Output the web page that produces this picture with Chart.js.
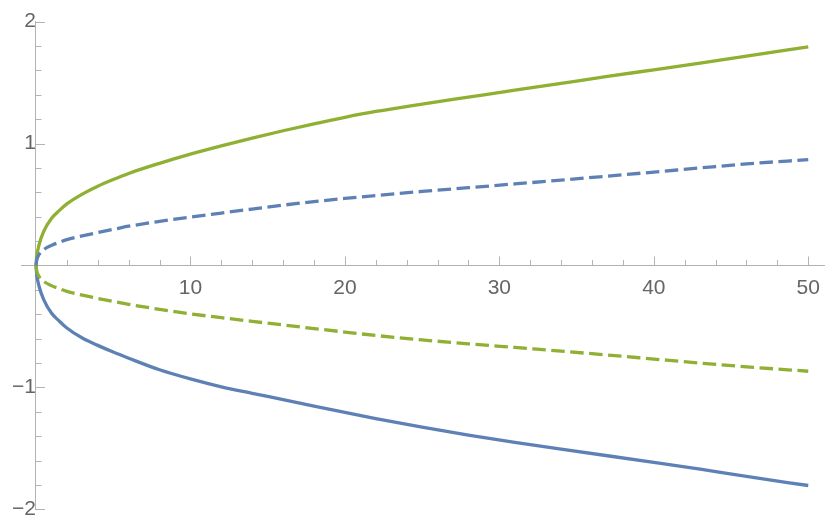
<!DOCTYPE html>
<html>
<head>
<meta charset="utf-8">
<script src="https://cdn.jsdelivr.net/npm/chart.js@4.4.1/dist/chart.umd.min.js"></script>
<style>
  html, body { margin: 0; padding: 0; background: #fff; }
  #wrap { width: 830px; height: 531px; position: relative; }
</style>
</head>
<body>
<div id="wrap"><canvas id="chart"></canvas></div>
<script>
// ===== Data =====
const xs = [0, 0.05, 0.2, 0.5, 1, 1.5, 2, 3, 4, 5, 6, 8, 10, 12, 14, 16, 18, 20, 22, 25, 28, 31, 34, 37, 40, 43, 46, 50];
const greenSolid = [0, 0.075, 0.17, 0.28, 0.385, 0.45, 0.505, 0.585, 0.65, 0.705, 0.755, 0.838, 0.913, 0.981, 1.045, 1.105, 1.162, 1.215, 1.263, 1.324, 1.381, 1.438, 1.494, 1.55, 1.605, 1.66, 1.716, 1.793];
const blueSolid = [0, -0.075, -0.17, -0.28, -0.39, -0.455, -0.512, -0.595, -0.655, -0.71, -0.76, -0.855, -0.93, -0.995, -1.048, -1.1, -1.153, -1.205, -1.255, -1.325, -1.39, -1.45, -1.505, -1.56, -1.615, -1.67, -1.73, -1.804];
const blueDashed = [0, 0.045, 0.09, 0.13, 0.165, 0.19, 0.212, 0.243, 0.27, 0.296, 0.322, 0.362, 0.397, 0.43, 0.463, 0.495, 0.524, 0.55, 0.574, 0.607, 0.638, 0.669, 0.7, 0.733, 0.766, 0.8, 0.833, 0.868];
const greenDashed = [0, -0.045, -0.09, -0.13, -0.165, -0.19, -0.212, -0.243, -0.27, -0.295, -0.318, -0.36, -0.396, -0.428, -0.458, -0.487, -0.517, -0.546, -0.574, -0.61, -0.642, -0.672, -0.702, -0.734, -0.767, -0.8, -0.831, -0.867];
const xTicks = [10, 20, 30, 40, 50];
const yTicks = [-2, -1, 1, 2];

const GREEN = '#8fb032', BLUE = '#5e81b5', AXIS = '#b3b3b3', LABEL = '#666666';
const pts = arr => xs.map((x, i) => ({ x, y: arr[i] }));

// small inward tick marks, Mathematica style (major + minor)
const tickMarks = {
    id: 'tickMarks',
    beforeDatasetsDraw(chart) {
        const { ctx, scales: { x, y } } = chart;
        const x0 = x.getPixelForValue(0), y0 = y.getPixelForValue(0);
        ctx.save();
        ctx.strokeStyle = AXIS; ctx.lineWidth = 1;
        ctx.beginPath();
        for (let v = 2; v <= 50; v += 2) {
            const px = Math.round(x.getPixelForValue(v)) + 0.5;
            const len = v % 10 === 0 ? 9 : 5.5;
            ctx.moveTo(px, y0); ctx.lineTo(px, y0 - len);
        }
        for (let i = -10; i <= 10; i++) {
            if (i === 0) continue;
            const py = Math.round(y.getPixelForValue(i / 5)) + 0.5;
            const len = i % 5 === 0 ? 9 : 5.5;
            ctx.moveTo(x0, py); ctx.lineTo(x0 + len, py);
        }
        ctx.stroke();
        ctx.restore();
    }
};

const line = (data, color, dashed) => ({
    data: pts(data), borderColor: color, borderWidth: 3.3, pointRadius: 0,
    borderDash: dashed ? [13.5, 5.5] : [], borderCapStyle: 'butt',
    cubicInterpolationMode: 'monotone', fill: false
});

const tickFont = { family: 'Liberation Sans', size: 21 };

new Chart(document.getElementById('chart'), {
    type: 'line',
    data: {
        datasets: [
            line(blueDashed, BLUE, true),
            line(greenDashed, GREEN, true),
            line(greenSolid, GREEN, false),
            line(blueSolid, BLUE, false)
        ]
    },
    options: {
        responsive: true, maintainAspectRatio: false, animation: false,
        layout: { padding: { left: 21, right: 3, top: 15, bottom: 18 } },
        plugins: { legend: { display: false }, tooltip: { enabled: false } },
        scales: {
            x: {
                type: 'linear', min: -0.97, max: 51.05, position: { y: 0 },
                grid: { color: 'transparent', drawOnChartArea: false, drawTicks: false },
                border: { color: AXIS, width: 1 },
                afterBuildTicks: s => { s.ticks = xTicks.map(v => ({ value: v })); },
                ticks: { padding: 10, color: LABEL, font: tickFont, autoSkip: false, maxRotation: 0 }
            },
            y: {
                type: 'linear', min: -2, max: 2, position: { x: 0 },
                grid: { color: 'transparent', drawOnChartArea: false, drawTicks: false },
                border: { color: AXIS, width: 1 },
                afterBuildTicks: s => { s.ticks = yTicks.map(v => ({ value: v })); },
                ticks: { padding: 9, color: LABEL, font: tickFont, autoSkip: false,
                    callback: v => v < 0 ? '\u2212' + Math.abs(v) : String(v) }
            }
        }
    },
    plugins: [tickMarks]
});
</script>
</body>
</html>
